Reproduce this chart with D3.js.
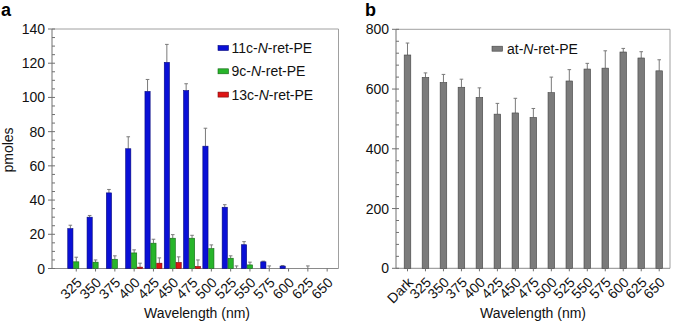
<!DOCTYPE html>
<html>
<head>
<meta charset="utf-8">
<script src="https://cdn.jsdelivr.net/npm/d3@7"></script>
<style>
  body { margin: 0; background: #fff; }
  svg { display: block; font-family: "Liberation Sans", Arial, Helvetica, sans-serif; }
</style>
</head>
<body>
<script>
// panel a data
let wavesA = ["325","350","375","400","425","450","475","500","525","550","575","600","625","650"];
let seriesA = ["11c", "9c", "13c"];
let val11c = [23.3, 30, 44.2, 70, 103.5, 120.5, 104, 71.5, 35.8, 13.9, 3.9, 1.4, 0, 0];
let err11c = [2, 1, 2, 7, 7, 10.5, 4, 10.5, 1.5, 1.8, 0.4, 0.3, 0, 0];
let val9c  = [3.9, 3.7, 5.4, 9.1, 14.8, 17.7, 17.7, 11.6, 6, 2.1, 0, 0, 0, 0];
let err9c  = [2.7, 1.3, 2, 1.8, 2.3, 2.1, 1.7, 2.2, 1.4, 1.6, 1.5, 0, 1.5, 0];
let val13c = [0, 0, 0, 0.8, 3.1, 3.5, 1.2, 0, 0, 0, 0, 0, 0, 0];
let err13c = [0, 0, 0, 2.3, 3.1, 3.3, 3.8, 0, 1.5, 0, 0, 0, 0, 0];
let legendA = ["11c-", "9c-", "13c-"];
let ticksA = [0, 20, 40, 60, 80, 100, 120, 140];

// panel b data
let wavesB = ["Dark","325","350","375","400","425","450","475","500","525","550","575","600","625","650"];
let valAt = [714, 639, 622, 606, 572, 516, 520, 505, 588, 627, 667, 670, 724, 704, 661];
let errAt = [40, 15, 27, 27, 32, 36, 49, 30, 52, 38, 19, 58, 12, 21, 37];
let ticksB = [0, 200, 400, 600, 800];

let colors = {"11c": "#0a10d6", "9c": "#27b52a", "13c": "#de1414"};
let strokes = {"11c": "#05087a", "9c": "#126414", "13c": "#7a0808"};

let svg = d3.select("body").append("svg")
    .attr("width", 675)
    .attr("height", 322);

// common frame + y axis
function drawFrame(x0, x1, y, ticks, minorStep, maxV) {
    let g = svg.append("g");
    g.append("line").attr("x1", x0).attr("x2", x1).attr("y1", y(maxV)).attr("y2", y(maxV))
        .attr("stroke", "#a0a0a0");
    g.append("line").attr("x1", x1).attr("x2", x1).attr("y1", y(maxV)).attr("y2", y(0))
        .attr("stroke", "#a0a0a0");
    g.append("line").attr("x1", x0).attr("x2", x1).attr("y1", y(0)).attr("y2", y(0))
        .attr("stroke", "#8a8a8a");
    g.append("line").attr("x1", x0).attr("x2", x0).attr("y1", y(maxV)).attr("y2", y(0))
        .attr("stroke", "#707070");

    let minors = d3.range(0, maxV + 0.001, minorStep).filter(v => ticks.indexOf(v) < 0);
    g.selectAll(".minor").data(minors).enter().append("line")
        .attr("x1", x0).attr("x2", x0 + 3)
        .attr("y1", d => y(d)).attr("y2", d => y(d))
        .attr("stroke", "#707070");
    g.selectAll(".major").data(ticks).enter().append("line")
        .attr("x1", x0 - 4).attr("x2", x0 + 3)
        .attr("y1", d => y(d)).attr("y2", d => y(d))
        .attr("stroke", "#707070");
    g.selectAll(".lbl").data(ticks).enter().append("text")
        .attr("x", x0 - 7).attr("y", d => y(d))
        .attr("dy", "0.36em")
        .attr("text-anchor", "end")
        .style("font-size", "14px")
        .attr("fill", "#111")
        .text(d => d);
}

function drawXLabels(x, cats, yBase) {
    svg.append("g").selectAll("line").data(cats).enter().append("line")
        .attr("x1", d => x(d) + x.bandwidth() / 2).attr("x2", d => x(d) + x.bandwidth() / 2)
        .attr("y1", yBase).attr("y2", yBase + 3)
        .attr("stroke", "#707070");
    svg.append("g").selectAll("text").data(cats).enter().append("text")
        .attr("transform", d => "translate(" + (x(d) + x.bandwidth() / 2 + 6.5) + "," + (yBase + 15) + ") rotate(-45)")
        .attr("text-anchor", "end")
        .style("font-size", "14px")
        .attr("fill", "#111")
        .text(d => d);
}

function errBars(data, yScale) {
    let g = svg.append("g");
    data.forEach(function(d) {
        if (d.err <= 0) return;
        g.append("line").attr("x1", d.cx).attr("x2", d.cx)
            .attr("y1", yScale(d.v)).attr("y2", yScale(d.v + d.err))
            .attr("stroke", "#7a7a7a");
        g.append("line").attr("x1", d.cx - 1.8).attr("x2", d.cx + 1.8)
            .attr("y1", yScale(d.v + d.err)).attr("y2", yScale(d.v + d.err))
            .attr("stroke", "#7a7a7a");
    });
}

// ---------- panel a ----------
let yA = d3.scaleLinear().domain([0, 140]).range([268.5, 29]);
let xA = d3.scaleBand().domain(wavesA).range([66.6, 336.8]);
let xSub = d3.scaleBand().domain(seriesA).range([0, 17]).paddingInner(0.12);

drawFrame(52, 338.5, yA, ticksA, 5, 140);

let valsA = {"11c": val11c, "9c": val9c, "13c": val13c};
let errsA = {"11c": err11c, "9c": err9c, "13c": err13c};
let barsA = [];
seriesA.forEach(function(s) {
    wavesA.forEach(function(w, i) {
        let left = xA(w) + xA.bandwidth() / 2 - 8.5 + xSub(s);
        barsA.push({s: s, x: left, cx: left + xSub.bandwidth() / 2, v: valsA[s][i], err: errsA[s][i]});
    });
});

errBars(barsA, yA);

svg.append("g").selectAll("rect").data(barsA.filter(d => d.v > 0)).enter().append("rect")
    .attr("x", d => d.x)
    .attr("y", d => yA(d.v))
    .attr("width", xSub.bandwidth())
    .attr("height", d => yA(0) - yA(d.v))
    .attr("fill", d => colors[d.s])
    .attr("stroke", d => strokes[d.s])
    .attr("stroke-width", 0.6);

drawXLabels(xA, wavesA, 268.5);

// legend a
let legA = svg.append("g").attr("transform", "translate(218,0)");
seriesA.forEach(function(s, i) {
    let yy = 48 + i * 23.3;
    legA.append("rect").attr("x", 0).attr("y", yy - 2.5).attr("width", 10.5).attr("height", 5)
        .attr("fill", colors[s]).attr("stroke", strokes[s]).attr("stroke-width", 0.6);
    let t = legA.append("text").attr("x", 13.5).attr("y", yy + 5).style("font-size", "14px").attr("fill", "#111");
    t.append("tspan").text(legendA[i]);
    t.append("tspan").style("font-style", "italic").text("N");
    t.append("tspan").text("-ret-PE");
});

svg.append("text").attr("transform", "translate(13,150) rotate(-90)")
    .attr("text-anchor", "middle").style("font-size", "14px").attr("fill", "#111").text("pmoles");
svg.append("text").attr("x", 197).attr("y", 318)
    .attr("text-anchor", "middle").style("font-size", "14px").attr("fill", "#111").text("Wavelength (nm)");
svg.append("text").attr("x", 1).attr("y", 16).style("font-size", "18px").style("font-weight", "bold").text("a");

// ---------- panel b ----------
let yB = d3.scaleLinear().domain([0, 800]).range([268.3, 29.3]);
let xB = d3.scaleBand().domain(wavesB).range([398.5, 668.2]);

drawFrame(396, 670, yB, ticksB, 40, 800);

let barW = 6.6;
let barsB = wavesB.map(function(w, i) {
    let cx = xB(w) + xB.bandwidth() / 2;
    return {x: cx - barW / 2, cx: cx, v: valAt[i], err: errAt[i]};
});

errBars(barsB, yB);

svg.append("g").selectAll("rect").data(barsB).enter().append("rect")
    .attr("x", d => d.x)
    .attr("y", d => yB(d.v))
    .attr("width", barW)
    .attr("height", d => yB(0) - yB(d.v))
    .attr("fill", "#7b7b7b")
    .attr("stroke", "#444")
    .attr("stroke-width", 0.6);

drawXLabels(xB, wavesB, 268.3);

let legB = svg.append("g").attr("transform", "translate(492,0)");
legB.append("rect").attr("x", 0).attr("y", 46.2).attr("width", 10.5).attr("height", 5)
    .attr("fill", "#7b7b7b").attr("stroke", "#444").attr("stroke-width", 0.6);
let tb = legB.append("text").attr("x", 15).attr("y", 53.5).style("font-size", "14px").attr("fill", "#111");
tb.append("tspan").text("at-");
tb.append("tspan").style("font-style", "italic").text("N");
tb.append("tspan").text("-ret-PE");

svg.append("text").attr("x", 533).attr("y", 318)
    .attr("text-anchor", "middle").style("font-size", "14px").attr("fill", "#111").text("Wavelength (nm)");
svg.append("text").attr("x", 365).attr("y", 16).style("font-size", "18px").style("font-weight", "bold").text("b");
</script>
</body>
</html>
